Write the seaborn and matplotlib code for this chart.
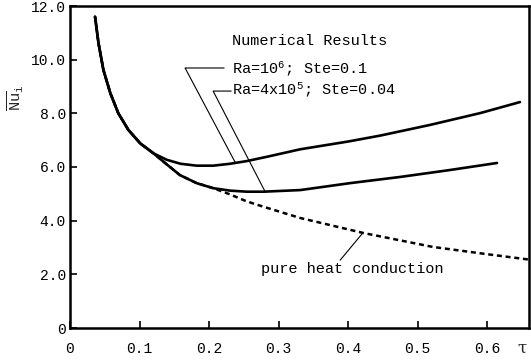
import matplotlib
matplotlib.use("Agg")
import matplotlib.pyplot as plt
import seaborn as sns
import pandas as pd

# Data
tau_ra1e6 = [0.036, 0.041, 0.048, 0.058, 0.0695, 0.084, 0.101, 0.120, 0.139, 0.159, 0.182,
             0.206, 0.230, 0.254, 0.283, 0.331, 0.400, 0.446, 0.518, 0.590, 0.647]
nu_ra1e6 = [11.60, 10.61, 9.62, 8.75, 8.00, 7.38, 6.88, 6.51, 6.27, 6.12, 6.05,
            6.05, 6.12, 6.22, 6.38, 6.66, 6.95, 7.17, 7.57, 8.01, 8.42]

tau_ra4e5 = [0.036, 0.041, 0.048, 0.058, 0.0695, 0.084, 0.101, 0.120, 0.139, 0.158, 0.182,
             0.206, 0.230, 0.254, 0.278, 0.331, 0.403, 0.475, 0.547, 0.614]
nu_ra4e5 = [11.60, 10.61, 9.62, 8.75, 8.00, 7.38, 6.88, 6.51, 6.10, 5.70, 5.40,
            5.21, 5.12, 5.08, 5.08, 5.14, 5.40, 5.63, 5.89, 6.15]

tau_cond = [0.036, 0.041, 0.048, 0.058, 0.0695, 0.084, 0.101, 0.120, 0.139, 0.158, 0.182,
            0.206, 0.230, 0.254, 0.278, 0.331, 0.422, 0.522, 0.600, 0.660]
nu_cond = [11.60, 10.61, 9.62, 8.75, 8.00, 7.38, 6.88, 6.51, 6.10, 5.70, 5.40,
           5.21, 4.98, 4.72, 4.52, 4.10, 3.54, 3.02, 2.75, 2.55]

x_ticks = [0, 0.1, 0.2, 0.3, 0.4, 0.5, 0.6]
x_ticklabels = ["0", "0.1", "0.2", "0.3", "0.4", "0.5", "0.6"]
y_ticks = [0, 2, 4, 6, 8, 10, 12]
y_ticklabels = ["0", "2.0", "4.0", "6.0", "8.0", "10.0", "12.0"]

sns.set_theme(style="white")
plt.rcParams['font.family'] = ['Liberation Mono', 'DejaVu Sans']
plt.rcParams['mathtext.fontset'] = 'custom'
plt.rcParams['mathtext.rm'] = 'Liberation Mono'
plt.rcParams['mathtext.it'] = 'Liberation Mono'

fig = plt.figure(figsize=(5.31, 3.62), dpi=100)
ax = fig.add_axes([70/531, 34/362, 459/531, 322/362])

df1 = pd.DataFrame({"tau": tau_ra1e6, "Nu": nu_ra1e6})
df2 = pd.DataFrame({"tau": tau_ra4e5, "Nu": nu_ra4e5})
df3 = pd.DataFrame({"tau": tau_cond, "Nu": nu_cond})

sns.lineplot(data=df3, x="tau", y="Nu", ax=ax, color="black", lw=1.8,
             linestyle=(0, (2.0, 1.5)))
sns.lineplot(data=df2, x="tau", y="Nu", ax=ax, color="black", lw=1.9)
sns.lineplot(data=df1, x="tau", y="Nu", ax=ax, color="black", lw=1.9)

ax.set_xlim(0, 0.66)
ax.set_ylim(0, 12)
ax.set_xticks(x_ticks)
ax.set_xticklabels(x_ticklabels)
ax.set_yticks(y_ticks)
ax.set_yticklabels(y_ticklabels)
ax.tick_params(axis="both", direction="in", length=5, width=1.2, colors="black",
               labelsize=10.5)
ax.tick_params(axis="x", pad=10, bottom=True)
ax.tick_params(axis="y", pad=3, left=True)
ax.set_xlabel("")
ax.set_ylabel("")
for s in ax.spines.values():
    s.set_color("black")
    s.set_linewidth(1.8)

# labels
fig.text(522/531, 1 - 348/362, "τ", fontsize=12, ha="center", va="center",
         family=['DejaVu Serif'])
fig.text(16/531, 1 - 98/362, r"$\overline{\mathrm{Nu}}_\mathrm{i}$", rotation=90,
         fontsize=11, ha="center", va="center")

# annotations
txt_kw = dict(fontsize=11, color="black", va="center", ha="left")
ax.text(0.233, 10.70, "Numerical Results", **txt_kw)
ax.text(0.233, 9.66, r"Ra=10$^{6}$; Ste=0.1", **txt_kw)
ax.text(0.233, 8.87, r"Ra=4x10$^{5}$; Ste=0.04", **txt_kw)
ax.text(0.274, 2.2, "pure heat conduction", **txt_kw)

lk = dict(color="black", lw=0.8)
# Ra=1e6 pointer
ax.plot([0.2216, 0.1655, 0.2374], [9.69, 9.69, 6.18], **lk)
# Ra=4e5 pointer
ax.plot([0.2317, 0.2058, 0.2806], [8.83, 8.83, 5.08], **lk)
# conduction pointer
ax.plot([0.3885, 0.4216], [2.53, 3.56], **lk)

fig.savefig("out.png", dpi=100)
